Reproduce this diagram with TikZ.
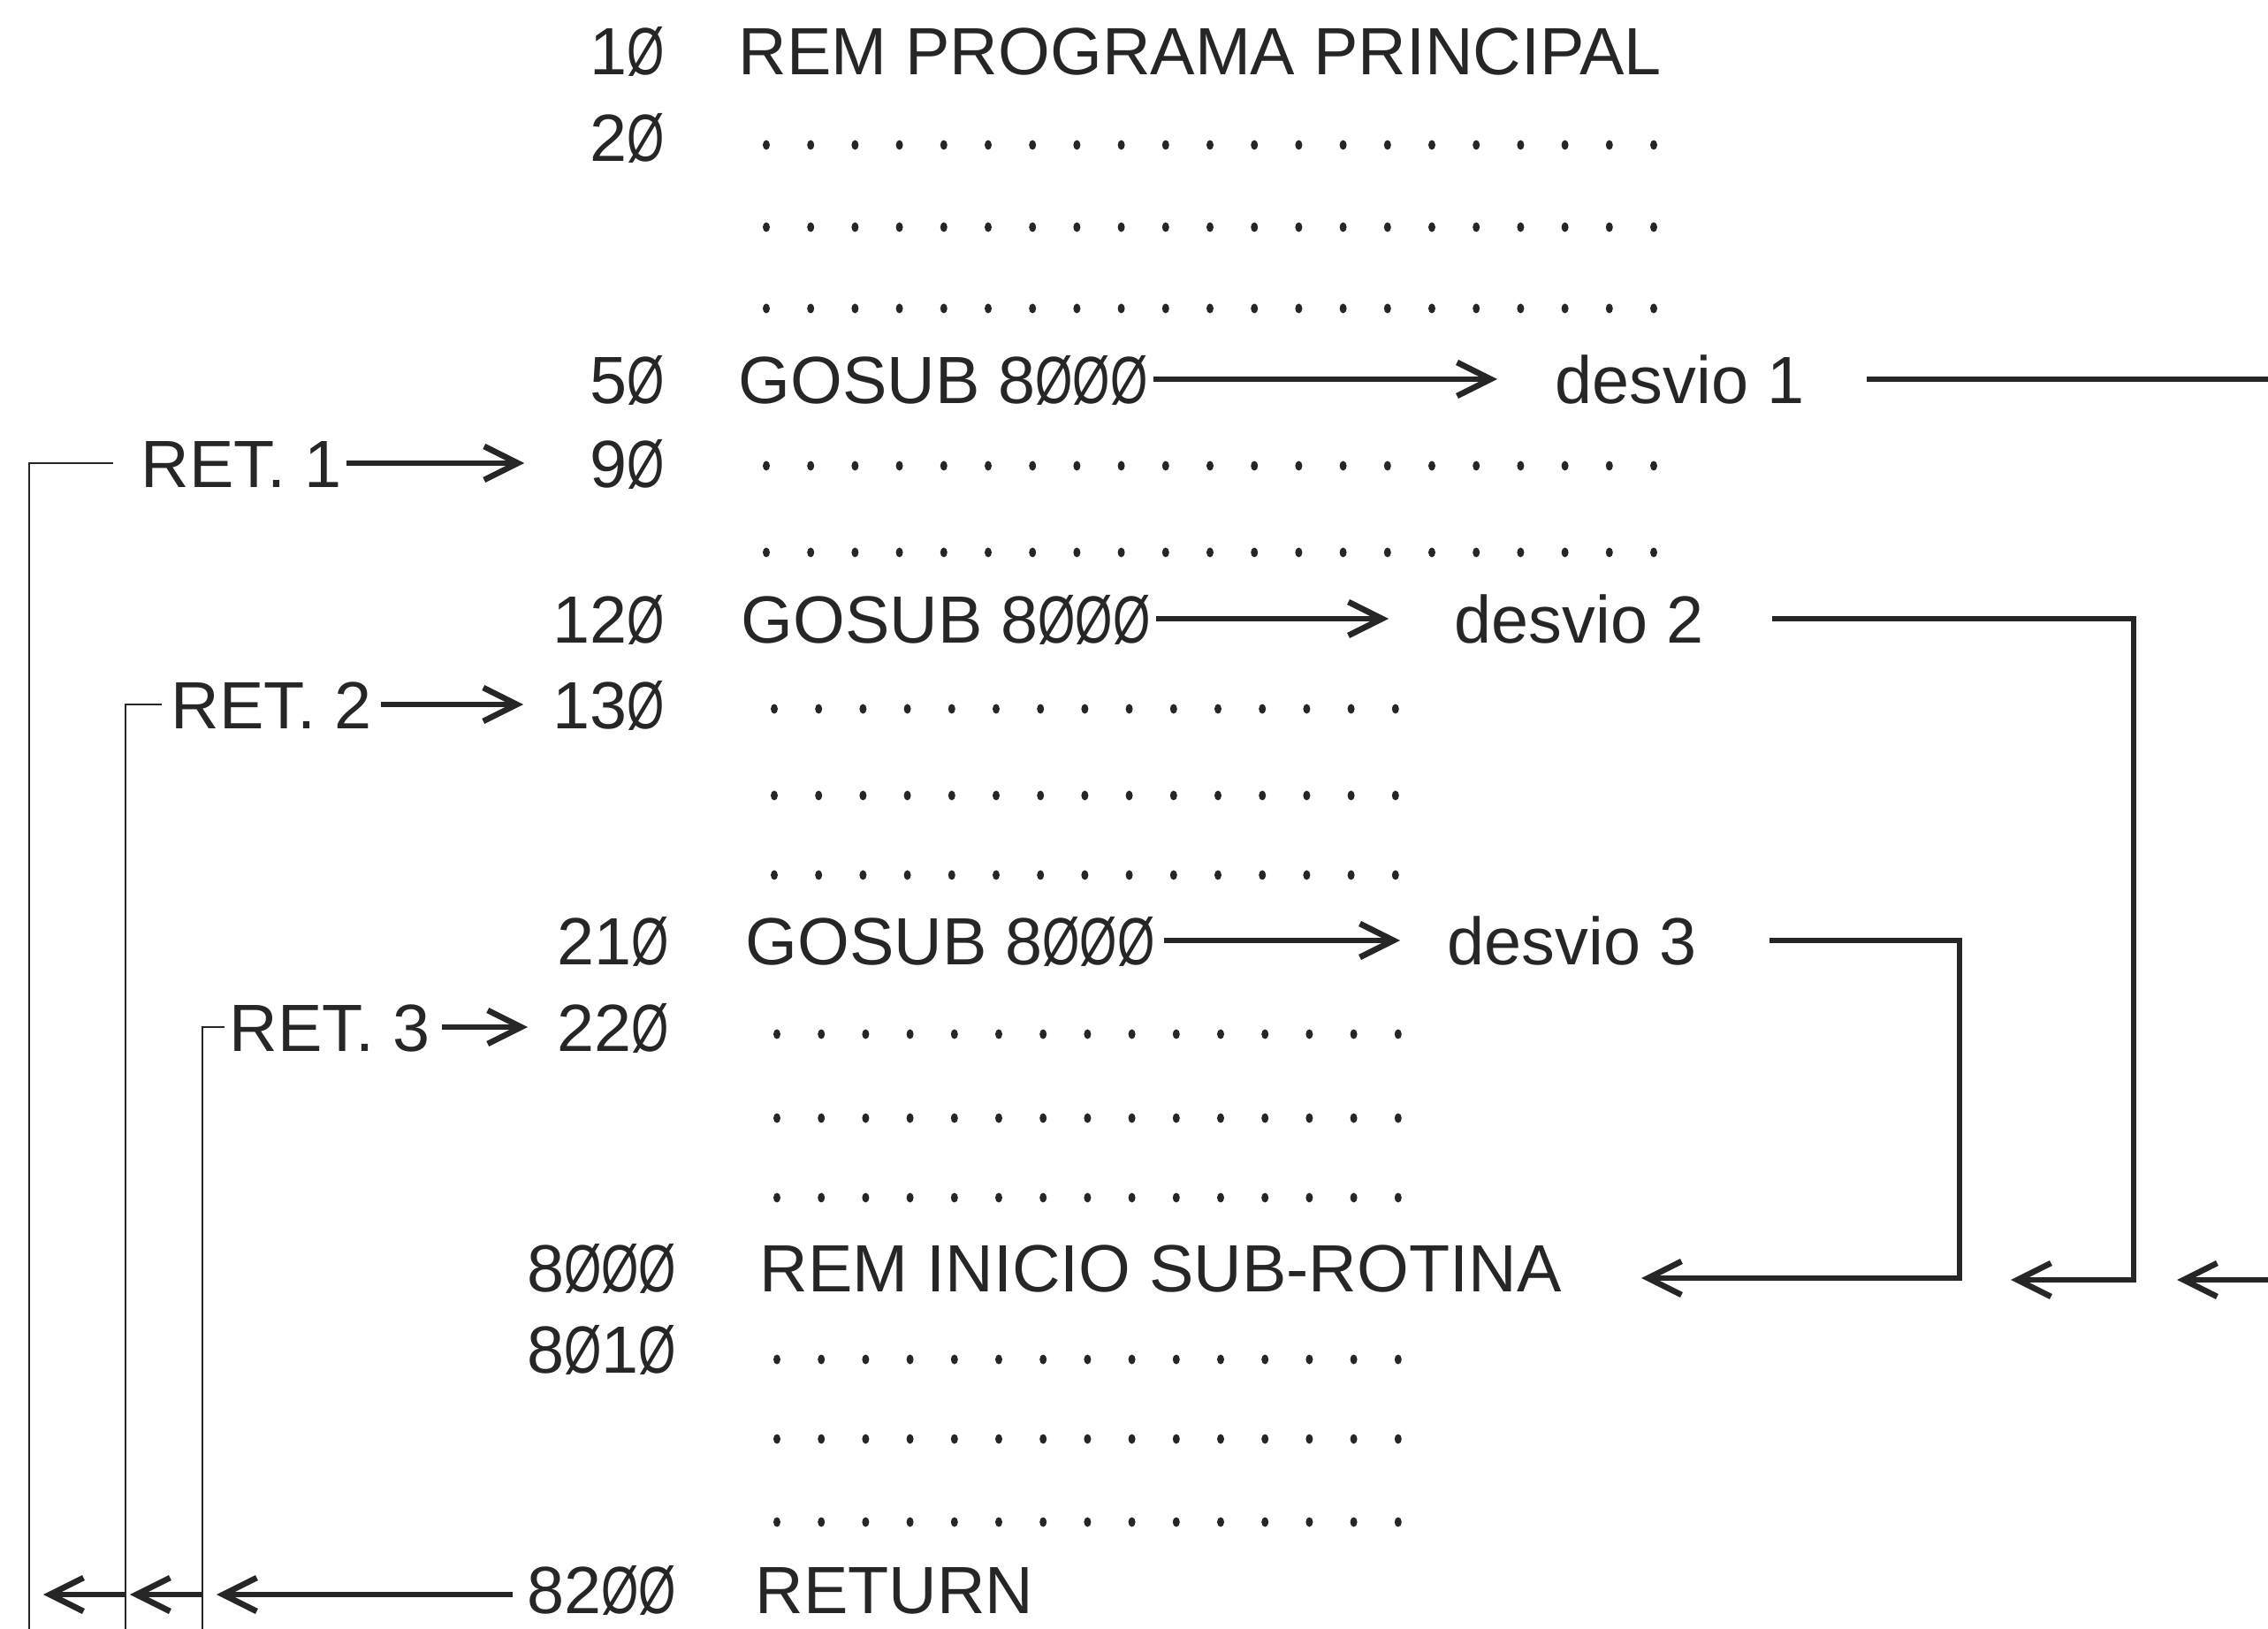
\documentclass[tikz,border=0pt]{standalone}
\usepackage{graphicx}
\usepackage{fontspec}
\setmainfont{Liberation Sans}
\usetikzlibrary{arrows.meta}

\newcommand{\zr}{\scalebox{0.72}[1]{Ø}}
\newcommand{\codefont}{\fontsize{21.5}{26}\selectfont}

\tikzset{
  code/.style={font=\codefont, inner sep=0pt, text height=0.56cm, text depth=0pt, text=black!85},
  lnum/.style={code, anchor=east},
  stmt/.style={code, anchor=west},
  flow/.style={draw=black!85, line width=1.5pt, -{Straight Barb[length=3.8mm,width=3.8mm,line width=1.9pt]}},
  rail/.style={draw=black!85, line width=0.8pt},
  pt/.style={fill=black!85}
}

\begin{document}
\begin{tikzpicture}
\useasboundingbox (0,0) rectangle (25.66,-18.43);

% line numbers
\node[lnum] (n10)   at (7.53,-0.57)  {1\zr};
\node[lnum] (n20)   at (7.53,-1.55)  {2\zr};
\node[lnum] (n50)   at (7.53,-4.29)  {5\zr};
\node[lnum] (n90)   at (7.53,-5.24)  {9\zr};
\node[lnum] (n120)  at (7.53,-7.00)  {12\zr};
\node[lnum] (n130)  at (7.53,-7.97)  {13\zr};
\node[lnum] (n210)  at (7.58,-10.64) {21\zr};
\node[lnum] (n220)  at (7.58,-11.62) {22\zr};
\node[lnum] (n8000) at (7.66,-14.34) {8\zr\zr\zr};
\node[lnum] (n8010) at (7.66,-15.25) {8\zr1\zr};
\node[lnum] (n8200) at (7.66,-17.97) {82\zr\zr};

% statements
\node[stmt] (s10)   at (8.35,-0.57)  {REM PROGRAMA PRINCIPAL};
\node[stmt] (g50)   at (8.35,-4.29)  {GOSUB 8\zr\zr\zr};
\node[stmt] (g120)  at (8.38,-7.00)  {GOSUB 8\zr\zr\zr};
\node[stmt] (g210)  at (8.43,-10.64) {GOSUB 8\zr\zr\zr};
\node[stmt] (s8000) at (8.59,-14.34) {REM INICIO SUB-ROTINA};
\node[stmt] (s8200) at (8.54,-17.97) {RETURN};

% branches
\node[stmt] (d1) at (17.59,-4.29)  {desvio 1};
\node[stmt] (d2) at (16.45,-7.00)  {desvio 2};
\node[stmt] (d3) at (16.37,-10.64) {desvio 3};

% returns
\node[stmt] (r1) at (1.59,-5.24)  {RET. 1};
\node[stmt] (r2) at (1.93,-7.97)  {RET. 2};
\node[stmt] (r3) at (2.59,-11.62) {RET. 3};

% dotted lines of code
\foreach \y/\x/\n in {-1.64/8.67/20, -2.57/8.67/20, -3.49/8.67/20,
                      -5.27/8.67/20, -6.25/8.67/20,
                      -8.02/8.76/14, -9.00/8.76/14, -9.90/8.76/14,
                      -11.70/8.79/14, -12.65/8.79/14, -13.55/8.79/14,
                      -15.38/8.79/14, -16.28/8.79/14, -17.22/8.79/14}
  \foreach \i in {0,...,\n}
    \fill[pt] (\x+\i*0.502,\y) ellipse (0.04 and 0.055);

% calls
\draw[flow] ([xshift=0.06cm]g50.east) -- ([xshift=-0.65cm]d1.west);
\draw[flow] ([xshift=0.06cm]g120.east) -- ([xshift=-0.74cm]d2.west);
\draw[flow] ([xshift=0.10cm]g210.east) -- ([xshift=-0.53cm]d3.west);

% routes into the sub-routine
\coordinate (e1) at (25.66,-4.29);
\coordinate (e1in) at (25.66,-14.48);
\coordinate (m1) at (24.63,-14.48);
\coordinate (m2) at (22.75,-14.48);
\coordinate (m3) at (18.57,-14.46);
\draw[flow, -] ([xshift=0.70cm]d1.east) -- (e1);
\draw[flow] (e1in) -- (m1);
\draw[flow] ([xshift=0.77cm]d2.east) -| (24.14,-14.48) -- (m2);
\draw[flow] ([xshift=0.82cm]d3.east) -| (22.17,-14.46) -- (m3);

% returns to the caller
\draw[flow] ([xshift=0.05cm]r1.east) -- ([xshift=-0.74cm]n90.west);
\draw[flow] ([xshift=0.10cm]r2.east) -- ([xshift=-0.33cm]n130.west);
\draw[flow] ([xshift=0.13cm]r3.east) -- ([xshift=-0.33cm]n220.west);

\coordinate (v1) at (0.33,-18.43);
\coordinate (v2) at (1.42,-18.43);
\coordinate (v3) at (2.29,-18.43);
\draw[rail] ([xshift=-0.31cm]r1.west) -- (0.33,-5.24) -- (v1);
\draw[rail] ([xshift=-0.10cm]r2.west) -- (1.42,-7.97) -- (v2);
\draw[rail] ([xshift=-0.05cm]r3.west) -- (2.29,-11.62) -- (v3);

\coordinate (t3) at (2.45,-18.04);
\coordinate (t2) at (1.47,-18.04);
\coordinate (t1) at (0.49,-18.04);
\draw[flow] ([xshift=-0.16cm]n8200.west |- t3) -- (t3);
\draw[flow] (v3 |- t3) -- (t2);
\draw[flow] (v2 |- t3) -- (t1);
\end{tikzpicture}
\end{document}
